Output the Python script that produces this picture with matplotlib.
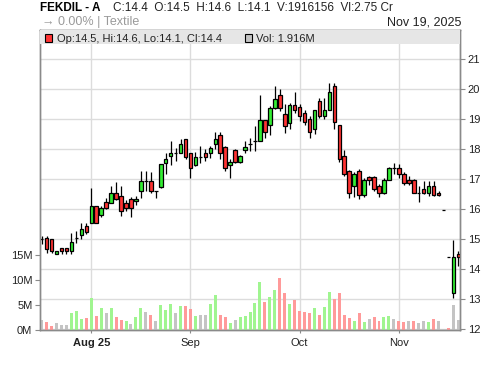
import matplotlib
matplotlib.use("Agg")
import matplotlib.pyplot as plt
from matplotlib.patches import Rectangle
import numpy as np

plt.rcParams["font.family"] = ["Liberation Sans", "DejaVu Sans"]

# daily candles, Aug 2025 .. Nov 19 2025
opens = [15.0, 15.05, 15.0, 14.5, 14.7, 14.7, 14.6, 15.05, 15.15, 15.45,
         15.55, 16.1, 15.8, 16.25, 16.2, 16.55, 16.45, 16.2, 16.35, 16.27,
         16.6, 16.95, 16.95, 16.6, 16.75, 17.55, 17.78, 17.87, 17.87, 18.35,
         17.87, 17.47, 17.75, 17.87, 17.87, 18.17, 18.47, 18.07, 17.47, 17.97,
         17.57, 17.97, 18.19, 18.28, 18.28, 18.97, 18.81, 19.39, 19.8, 19.19,
         18.89, 19.49, 19.4, 19.2, 19.0, 18.67, 19.6, 19.1, 19.3, 20.1,
         18.8, 17.78, 17.28, 16.78, 17.28, 16.47, 17.07, 17.07, 16.77, 16.55,
         16.97, 17.37, 17.37, 17.17, 16.97, 16.97, 16.55, 16.67, 16.55, 16.78,
         16.55, 15.97, 14.4, 13.22, 14.5]
highs = [15.1, 15.1, 15.0, 14.6, 14.7, 14.7, 15.2, 15.27, 15.55, 15.55,
         16.7, 16.1, 16.1, 16.37, 16.78, 16.9, 16.78, 16.3, 16.4, 16.44,
         17.28, 17.28, 17.25, 16.6, 17.5, 17.89, 18.28, 18.05, 18.35, 18.35,
         17.87, 17.9, 18.1, 18.0, 18.1, 18.58, 18.58, 18.1, 17.67, 18.0,
         17.8, 18.28, 18.39, 18.78, 19.82, 18.97, 19.45, 20.1, 20.0, 19.5,
         19.55, 19.9, 19.5, 19.3, 19.1, 19.3, 19.7, 19.7, 20.2, 20.2,
         18.8, 17.98, 17.3, 17.25, 17.35, 17.05, 17.1, 17.1, 16.85, 17.05,
         17.4, 17.55, 17.5, 17.25, 17.1, 17.0, 16.78, 16.95, 16.95, 16.95,
         16.6, 15.97, 14.4, 14.97, 14.6]
lows = [14.85, 14.55, 14.55, 14.5, 14.5, 14.5, 14.5, 14.88, 15.0, 15.17,
        15.55, 15.55, 15.75, 16.0, 16.2, 16.3, 15.78, 15.95, 15.74, 16.15,
        16.37, 16.6, 16.55, 16.37, 16.7, 17.17, 17.47, 17.6, 17.87, 17.69,
        17.05, 17.45, 17.55, 17.6, 17.7, 18.0, 17.67, 17.28, 17.05, 17.55,
        17.55, 17.87, 17.95, 17.95, 18.28, 18.37, 18.47, 19.35, 19.28, 18.55,
        18.67, 19.2, 18.95, 18.8, 18.37, 18.5, 19.05, 19.0, 19.3, 18.67,
        17.58, 17.1, 16.37, 16.4, 16.35, 16.4, 16.8, 16.6, 16.4, 16.5,
        16.97, 17.17, 17.05, 16.8, 16.8, 16.55, 16.25, 16.5, 16.45, 16.45,
        16.45, 15.97, 14.4, 13.05, 14.1]
closes = [15.0, 14.67, 14.6, 14.6, 14.6, 14.6, 14.9, 15.05, 15.35, 15.25,
          16.1, 15.55, 16.05, 16.05, 16.55, 16.35, 15.95, 16.05, 16.05, 16.35,
          16.95, 16.95, 16.6, 16.6, 17.5, 17.67, 17.87, 17.87, 18.17, 17.75,
          17.37, 17.75, 17.75, 17.75, 18.05, 18.36, 17.87, 17.37, 17.57, 17.57,
          17.77, 18.07, 18.19, 18.28, 18.97, 18.57, 19.39, 19.69, 19.39, 18.78,
          19.49, 19.3, 19.1, 18.9, 18.58, 19.3, 19.1, 19.3, 19.9, 18.9,
          17.67, 17.17, 16.55, 17.17, 16.47, 16.97, 16.97, 16.67, 16.55, 16.97,
          17.37, 17.37, 17.17, 16.87, 16.87, 16.55, 16.55, 16.55, 16.78, 16.48,
          16.48, 15.97, 14.4, 14.4, 14.4]
volumes_m = [2.0, 1.6, 0.8, 1.4, 1.0, 1.0, 3.4, 3.8, 2.2, 2.4,
             6.4, 2.8, 4.4, 3.4, 4.4, 2.6, 2.0, 1.8, 1.2, 2.6,
             4.4, 3.6, 3.0, 1.8, 5.0, 4.0, 5.2, 3.4, 4.8, 4.8,
             4.2, 2.8, 3.0, 3.0, 5.2, 7.0, 3.0, 2.6, 1.4, 2.0,
             2.6, 2.8, 3.6, 5.4, 9.6, 5.6, 6.6, 8.0, 10.5, 7.4,
             5.2, 6.0, 3.8, 3.6, 3.4, 4.4, 3.0, 4.6, 7.6, 6.2,
             7.4, 3.0, 2.4, 1.8, 3.4, 1.6, 2.2, 2.6, 1.8, 2.6,
             2.8, 2.2, 1.8, 1.6, 1.8, 1.8, 1.4, 1.8, 1.6, 2.2,
             1.8, 0.0, 0.4, 5.0, 1.916]

month_pos = [10, 30, 52, 72]
month_labels = ["Aug 25", "Sep", "Oct", "Nov"]
price_ticks = [12, 13, 14, 15, 16, 17, 18, 19, 20, 21]
vol_ticks = [0, 5, 10, 15]

GREEN = "#33ee33"
RED = "#ff3333"
VGREEN = "#a0f590"
VRED = "#ff9a9a"
VGRAY = "#c4c4c4"
GRID = "#dcdcdc"
FRAME = "#8a8a8a"
TXT = "#222222"

o = np.array(opens)
h = np.array(highs)
l = np.array(lows)
c = np.array(closes)
v = np.array(volumes_m)
x = np.arange(len(c))

W, H = 500, 366
fig = plt.figure(figsize=(5, 3.66), dpi=100)
ax = fig.add_axes([40 / W, 1 - 330 / H, 420 / W, 300 / H])
axv = ax.twinx()

# price axis (right)
ax.set_xlim(-0.34, 84.33)
ax.set_ylim(11.977, 21.98)
ax.yaxis.tick_right()
ax.set_yticks(price_ticks)
ax.set_yticklabels([str(t) for t in price_ticks])
for t in price_ticks:
    ax.axhline(t, color=GRID, lw=1.0, zorder=0)
for p in month_pos:
    ax.axvline(p, color=GRID, lw=1.0, zorder=0)

ax.vlines(x, l, h, color="black", lw=0.9, zorder=2)
up = c > o
body_col = np.where(up, GREEN, RED)
ax.bar(x, np.abs(c - o), bottom=np.minimum(o, c), width=0.72,
       color=body_col, edgecolor="black", linewidth=0.9, zorder=3)

# volume axis (left)
diff = np.diff(c, prepend=c[0])
vcol = [VGRAY if abs(d) < 0.005 else (VGREEN if d > 0 else VRED) for d in diff]
axv.bar(x, v, width=0.6, color=vcol, zorder=1)
axv.set_ylim(0, 60)
axv.yaxis.tick_left()
axv.set_yticks(vol_ticks)
axv.set_yticklabels([f"{t}M" for t in vol_ticks])

ax.set_xticks(month_pos)
ax.set_xticklabels(month_labels)
ax.get_xticklabels()[0].set_fontweight("bold")

for a in (ax, axv):
    for s in a.spines.values():
        s.set_color(FRAME)
        s.set_linewidth(1.0)
    a.tick_params(axis="both", labelsize=8, colors=FRAME, labelcolor=TXT,
                  length=3.5, width=0.8, pad=2)
ax.tick_params(axis="x", length=2.5, pad=3)

# legend band inside the top of the frame
axv.add_patch(Rectangle((0, 286 / 300), 1, 14 / 300, transform=axv.transAxes,
                        facecolor="#e6e6e6", edgecolor="none", zorder=5,
                        clip_on=False))


def px(xp, yp):
    return xp / W, 1 - yp / H


fig.patches.append(Rectangle(px(45, 41.5), 6.5 / W, 7 / H,
                             transform=fig.transFigure, facecolor=RED,
                             edgecolor="black", linewidth=0.8, zorder=10))
fig.text(*px(57, 41.8), "Op:14.5, Hi:14.6, Lo:14.1, Cl:14.4", fontsize=8,
         color=TXT, va="baseline", zorder=10)
fig.patches.append(Rectangle(px(245, 41.5), 6.5 / W, 7 / H,
                             transform=fig.transFigure, facecolor=VGRAY,
                             edgecolor="black", linewidth=0.8, zorder=10))
fig.text(*px(256.5, 41.8), "Vol: 1.916M", fontsize=8, color=TXT,
         va="baseline", zorder=10)

# header
fig.text(*px(40.5, 10.7), "FEKDIL - A", fontsize=8.5, fontweight="bold",
         color="black", va="baseline")
fig.text(*px(113, 10.7), "C:14.4  O:14.5  H:14.6  L:14.1  V:1916156  Vl:2.75 Cr",
         fontsize=8.5, color=TXT, va="baseline")
fig.text(*px(41.5, 25.5), "→ 0.00% | Textile", fontsize=9, color="#9a9a9a",
         va="baseline")
fig.text(*px(461, 25.5), "Nov 19, 2025", fontsize=9, color=TXT,
         va="baseline", ha="right")

fig.savefig("out.png", dpi=100, facecolor="white")
